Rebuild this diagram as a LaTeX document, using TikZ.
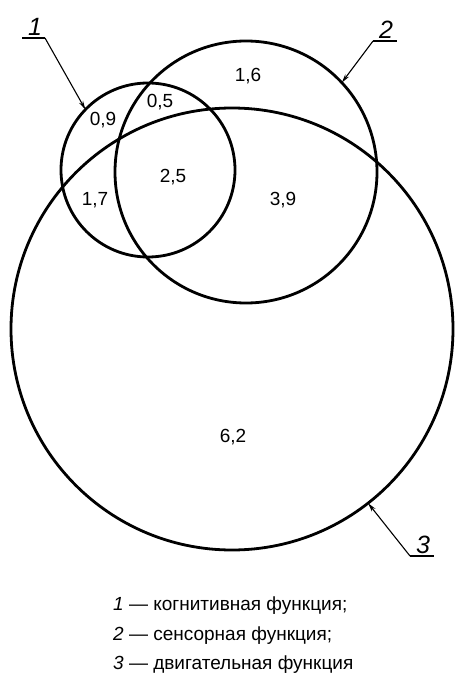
\documentclass[tikz,border=0pt]{standalone}
\usepackage{fontspec}
\setmainfont{Liberation Sans}
\usetikzlibrary{arrows.meta}
\begin{document}
\begin{tikzpicture}[x=1pt,y=-1pt,
  ring/.style={circle,draw,line width=2.8pt,inner sep=0pt,outer sep=0pt},
  val/.style={font=\fontsize{19}{21}\selectfont,inner sep=0pt},
  leader/.style={line width=1.1pt,-{Stealth[length=9pt,width=4.5pt]}},
  under/.style={line width=1.1pt},
  tag/.style={font=\fontsize{25}{27}\selectfont\itshape,inner sep=0pt,anchor=south},
  legend/.style={font=\fontsize{19}{21}\selectfont,inner sep=0pt,anchor=base west}]
\useasboundingbox (0,0) rectangle (457,679);
% circles
\node[ring,minimum size=442pt] (c3) at (232,329) {};
\node[ring,minimum size=174pt] (c1) at (148,170) {};
\node[ring,minimum size=262pt] (c2) at (246,172) {};
% values
\node[val] (v09) at (103,120) {0,9};
\node[val] (v05) at (160,102) {0,5};
\node[val] (v16) at (248,76) {1,6};
\node[val] (v25) at (173,177) {2,5};
\node[val] (v17) at (95,200) {1,7};
\node[val] (v39) at (283,200) {3,9};
\node[val] (v62) at (233,437) {6,2};
% leaders
\coordinate (u1a) at (22,38); \coordinate (u1b) at (45,38);
\coordinate (u2a) at (373,41); \coordinate (u2b) at (397,41);
\coordinate (u3a) at (410,556); \coordinate (u3b) at (434,556);
\draw[under] (u1a) -- (u1b);
\draw[under] (u2a) -- (u2b);
\draw[under] (u3a) -- (u3b);
\draw[leader] (u1b) -- (c1.136);
\draw[leader] (u2a) -- (c2.43.5);
\draw[leader] (u3a) -- (c3.-52);
\node[tag] (t1) at (35,36) {1};
\node[tag] (t2) at (386,39) {2};
\node[tag] (t3) at (423,554) {3};
% legend
\node[legend] (l1) at (113,610) {\textit{1} — когнитивная функция;};
\node[legend] (l2) at (113,640) {\textit{2} — сенсорная функция;};
\node[legend] (l3) at (113,669) {\textit{3} — двигательная функция};
\end{tikzpicture}
\end{document}
